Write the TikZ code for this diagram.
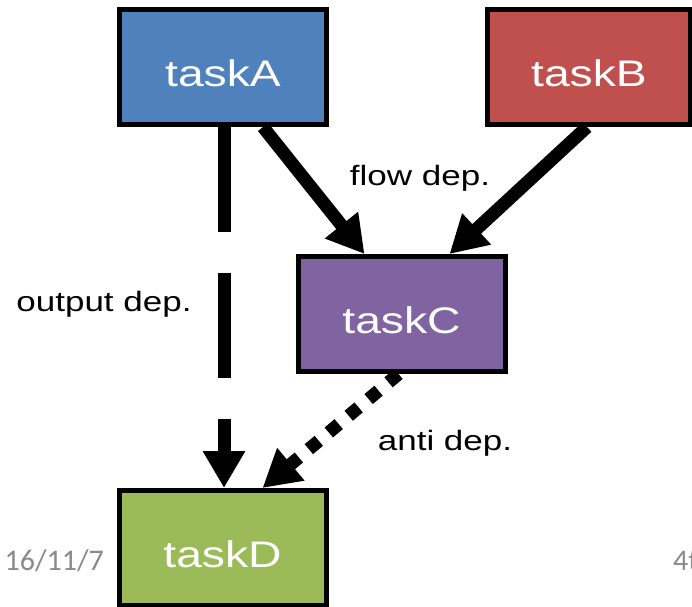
\documentclass[tikz,border=0pt]{standalone}
\usepackage{fontspec}
\setmainfont{Liberation Sans}[FakeStretch=1.25]
\newfontfamily\datefont{Carlito}
\usetikzlibrary{arrows.meta}
\definecolor{taskblue}{HTML}{4F81BD}
\definecolor{taskred}{HTML}{C0504D}
\definecolor{taskpurple}{HTML}{8064A2}
\definecolor{taskgreen}{HTML}{9BBB59}
\definecolor{footgray}{HTML}{8A8A8A}
\begin{document}
\begin{tikzpicture}[x=1pt,y=-1pt,
  task/.style={draw=black, line width=5pt, minimum width=207pt, minimum height=115pt,
    inner sep=0pt, text=white, text height=38pt, text depth=0pt,
    font=\fontsize{37}{40}\selectfont},
  dep/.style={line width=13pt, -{Triangle[length=37pt,width=40pt]}},
  lbl/.style={font=\fontsize{28}{32}\selectfont, anchor=base},
  foot/.style={font=\datefont\fontsize{30}{34}\selectfont, text=footgray}]
\useasboundingbox (0,0) rectangle (692,606);
\clip (0,0) rectangle (692,606);

% task boxes
\node[task, fill=taskblue]   (A) at (223,67)    {taskA};
\node[task, fill=taskred, minimum width=203pt] (B) at (589,67) {taskB};
\node[task, fill=taskpurple] (C) at (401.5,314) {taskC};
\node[task, fill=taskgreen]  (D) at (222.5,548) {taskD};

% dependencies
\draw[dep] ([xshift=40pt]A.south) -- ([xshift=-37pt]C.north);
\draw[dep] ([xshift=-2pt]B.south) -- ([xshift=48pt]C.north);
\draw[dep, dash pattern=on 105pt off 41pt] ([xshift=1pt]A.south) -- ([xshift=1.5pt]D.north);
\draw[dep, dash pattern=on 13pt off 13pt] ([xshift=-3pt]C.south) -- ([xshift=40pt]D.north);

% labels
\node[lbl] (flowlbl)   at (420,185) {flow dep.};
\node[lbl] (outputlbl) at (104,311) {output dep.};
\node[lbl] (antilbl)   at (445,450) {anti dep.};

% footer
\node[foot, anchor=base east, inner sep=0pt] (date) at (104,570) {16/11/7};
\node[foot, anchor=base west, inner sep=0pt] (page) at (673,570) {4t};
\end{tikzpicture}
\end{document}
